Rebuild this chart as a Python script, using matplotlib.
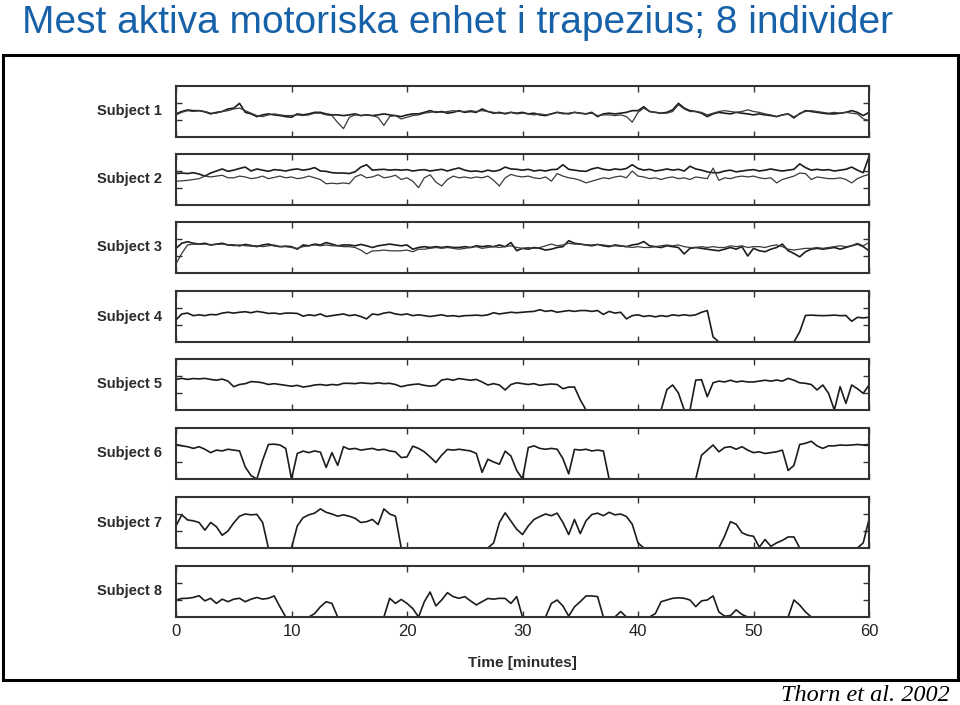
#!/usr/bin/env python3
# -*- coding: utf-8 -*-

import numpy as np
import matplotlib
matplotlib.use("Agg")
import matplotlib.pyplot as plt
from matplotlib.patches import Rectangle

# Time axis: one reading every half minute, 0..60 min
minutes = np.arange(0, 60.5, 0.5)

# Firing rate traces, y range 0..30
subj1_a = [13.6, 15.0, 15.9, 15.5, 15.5, 14.8, 13.6, 14.5, 15.0, 16.5,
           17.0, 19.8, 14.5, 13.6, 12.0, 13.0, 13.6, 13.0, 12.6, 12.0,
           11.6, 13.6, 13.0, 13.6, 14.5, 14.5, 13.6, 13.0, 13.0, 12.6,
           13.0, 13.6, 12.6, 13.0, 12.6, 13.0, 13.6, 13.0, 12.6, 12.0,
           13.0, 13.6, 13.6, 14.5, 15.5, 14.5, 15.0, 14.0, 14.5, 15.5,
           14.5, 15.0, 14.5, 16.5, 15.0, 14.0, 14.5, 13.6, 14.5, 14.0,
           14.5, 13.6, 14.0, 13.0, 12.6, 13.6, 14.5, 14.0, 13.6, 14.5,
           14.0, 13.6, 14.5, 12.0, 13.6, 14.0, 13.6, 14.0, 14.5, 15.5,
           15.5, 17.8, 15.0, 14.5, 14.0, 14.5, 16.0, 19.8, 17.0, 15.5,
           15.0, 14.0, 12.0, 13.6, 14.5, 14.0, 13.6, 14.5, 14.0, 13.6,
           13.0, 13.6, 13.0, 12.6, 12.0, 13.0, 13.6, 11.6, 13.6, 15.5,
           15.0, 14.5, 14.0, 13.6, 13.6, 14.0, 14.5, 15.5, 14.5, 12.6,
           14.5]
subj1_b = [13.0, 14.5, 15.5, 15.0, 15.5, 15.0, 14.0, 14.0, 15.0, 15.5,
           16.5, 17.0, 15.5, 14.0, 12.6, 12.0, 13.0, 13.6, 13.0, 12.6,
           12.6, 13.0, 12.6, 13.0, 14.0, 14.0, 13.0, 12.6, 8.5, 4.9,
           11.5, 13.0, 12.6, 13.0, 12.6, 11.5, 6.8, 12.0, 12.6, 10.6,
           11.6, 12.6, 13.0, 14.0, 14.5, 15.0, 14.5, 15.0, 15.5, 15.0,
           15.0, 15.5, 15.0, 15.5, 15.0, 14.5, 14.0, 14.0, 14.5, 13.6,
           14.0, 13.6, 13.0, 13.6, 13.0, 13.6, 14.5, 13.6, 14.0, 14.5,
           14.0, 13.6, 14.0, 12.6, 13.0, 13.0, 12.6, 13.0, 12.0, 8.7,
           14.5, 17.0, 15.0, 14.5, 14.0, 14.0, 15.0, 19.0, 16.5, 15.0,
           15.0, 14.5, 13.0, 14.0, 15.0, 15.5, 15.0, 14.5, 15.0, 16.0,
           15.0, 14.5, 13.6, 13.0, 12.0, 13.0, 13.6, 11.0, 14.0, 15.0,
           15.5, 15.0, 14.5, 14.0, 14.5, 14.0, 14.5, 14.0, 13.6, 10.7,
           9.7]
subj2_a = [18.5, 18.8, 18.5, 19.0, 18.2, 17.0, 18.8, 20.0, 21.2, 19.8,
           20.5, 21.5, 22.3, 20.0, 21.2, 20.5, 19.8, 20.8, 20.5, 20.0,
           20.8, 21.2, 20.5, 21.0, 22.0, 20.0, 19.8, 19.0, 18.8, 18.8,
           18.5, 19.5, 22.3, 23.7, 20.5, 20.8, 21.0, 20.5, 20.8, 20.5,
           20.8, 20.0, 20.5, 20.8, 20.0, 20.5, 21.0, 20.0, 21.0, 21.8,
           20.5, 19.8, 20.0, 19.5, 20.5, 19.8, 20.5, 22.3, 21.2, 21.0,
           20.5, 21.0, 20.0, 20.5, 20.0, 20.8, 21.0, 23.7, 21.0, 20.5,
           20.0, 19.8, 21.2, 22.0, 21.0, 20.5, 21.2, 20.8, 21.5, 23.7,
           21.5, 20.5, 21.0, 20.0, 20.5, 21.2, 20.5, 21.0, 20.0, 22.8,
           21.2, 20.5, 19.5, 19.0, 19.0, 20.0, 20.5, 19.5, 20.0, 20.5,
           20.8, 20.0, 20.5, 21.2, 20.5, 20.0, 20.5, 21.0, 24.2, 22.0,
           20.5, 21.0, 20.5, 20.8, 20.0, 20.5, 21.0, 22.3, 20.5, 19.0,
           28.5]
subj2_b = [14.0, 14.2, 14.5, 15.0, 15.5, 17.0, 16.5, 17.0, 17.5, 16.0,
           16.0, 17.0, 16.5, 15.5, 16.0, 17.0, 15.5, 16.2, 17.0, 16.0,
           16.5, 15.5, 16.0, 17.0, 16.0, 15.0, 12.5, 12.8, 12.5, 13.0,
           12.5, 16.5, 17.9, 16.0, 16.5, 17.8, 16.0, 16.5, 17.5, 15.0,
           16.0, 14.0, 10.2, 16.0, 17.8, 13.5, 11.2, 15.0, 17.0, 16.0,
           16.5, 15.8, 16.5, 16.0, 17.0, 14.5, 11.2, 16.0, 18.0, 17.0,
           16.5, 17.0, 16.0, 15.5, 16.5, 14.0, 18.5, 17.0, 16.0, 15.5,
           14.5, 13.0, 14.0, 15.0, 16.0, 15.5, 16.5, 17.0, 16.0, 20.0,
           17.0, 16.5, 15.5, 16.0, 15.0, 16.0, 16.5, 15.5, 16.0, 15.0,
           16.5, 16.0, 15.5, 21.7, 14.5, 16.0, 15.5, 16.5, 17.0, 16.5,
           17.0, 16.0, 15.5, 16.0, 13.0, 15.0, 16.0, 17.0, 18.8, 18.5,
           15.0, 16.5, 16.0, 15.5, 15.5, 16.0, 15.0, 13.0, 15.5, 17.0,
           18.0]
subj3_a = [14.5, 17.5, 18.4, 17.5, 17.0, 17.5, 16.5, 17.0, 17.5, 16.5,
           16.5, 16.0, 16.8, 16.2, 15.5, 16.5, 17.0, 16.0, 15.5, 15.8,
           15.5, 14.0, 16.5, 16.0, 17.0, 16.5, 17.9, 17.0, 16.0, 16.5,
           16.5, 16.0, 16.8, 16.0, 15.0, 16.0, 16.5, 17.0, 16.5, 16.0,
           16.5, 14.0, 15.0, 15.5, 15.0, 15.5, 15.0, 15.5, 15.0, 15.0,
           15.5, 15.0, 16.0, 15.5, 16.0, 15.5, 16.5, 15.5, 17.9, 13.1,
           14.5, 14.0, 15.0, 14.5, 13.5, 14.0, 15.0, 15.5, 19.0, 17.5,
           17.0, 16.5, 16.0, 16.8, 16.0, 15.5, 16.5, 16.0, 15.5, 16.5,
           17.0, 18.5, 16.0, 15.5, 15.0, 16.0, 15.5, 15.0, 11.2, 14.5,
           15.0, 14.5, 14.0, 13.5, 13.1, 14.0, 15.0, 14.0, 15.5, 10.0,
           14.5, 13.1, 12.5, 14.0, 15.0, 17.0, 13.1, 11.5, 9.5, 12.5,
           14.0, 14.5, 14.0, 14.5, 15.0, 14.0, 15.0, 16.0, 17.0, 15.5,
           13.1]
subj3_b = [5.4, 11.5, 16.5, 17.0, 16.8, 17.0, 16.5, 16.8, 17.0, 16.5,
           16.0, 16.5, 16.0, 15.8, 16.0, 15.5, 16.0, 16.5, 15.5, 15.5,
           15.0, 14.5, 15.5, 16.0, 16.5, 16.0, 16.5, 16.0, 16.0, 15.5,
           15.5, 15.0, 13.5, 11.2, 13.0, 13.1, 13.5, 13.1, 13.0, 13.1,
           13.5, 12.5, 14.0, 14.0, 14.5, 15.0, 14.5, 15.0, 14.5, 14.0,
           14.5, 15.0, 15.5, 14.5, 15.0, 15.5, 15.0, 15.5, 16.0, 15.0,
           14.5, 15.0, 14.5, 15.0, 16.0, 17.0, 16.0, 16.5, 17.5, 17.0,
           17.0, 16.5, 16.5, 16.8, 16.5, 16.0, 16.0, 15.8, 15.5, 15.0,
           15.5, 15.0, 15.0, 15.5, 16.0, 16.5, 16.0, 16.5, 15.5, 15.0,
           15.0, 15.5, 15.0, 15.5, 15.0, 15.0, 16.0, 15.5, 16.0, 15.0,
           15.5, 15.5, 15.0, 16.0, 16.5, 15.5, 14.0, 13.5, 14.0, 14.5,
           14.5, 15.0, 14.5, 15.0, 15.5, 16.0, 15.5, 16.0, 17.5, 16.0,
           17.9]
subj4 = [13.0, 16.5, 17.0, 15.5, 16.0, 15.5, 16.2, 16.0, 17.0, 17.5,
         17.0, 17.5, 17.8, 17.2, 18.0, 17.5, 16.8, 17.0, 16.5, 17.0,
         17.0, 16.8, 15.2, 16.0, 15.5, 16.5, 15.0, 15.5, 16.0, 16.5,
         15.5, 16.0, 15.0, 13.6, 16.5, 16.0, 17.0, 17.5, 16.5, 16.0,
         16.5, 15.5, 16.0, 15.5, 15.0, 15.5, 16.0, 15.2, 15.5, 15.0,
         15.5, 15.6, 15.8, 15.5, 16.0, 17.2, 16.5, 17.0, 17.5, 17.2,
         17.5, 17.8, 18.0, 19.0, 18.0, 18.5, 17.5, 18.0, 18.5, 18.0,
         18.5, 18.5, 18.0, 18.5, 16.2, 18.0, 17.0, 17.5, 13.6, 15.5,
         16.0, 15.0, 15.5, 14.8, 15.5, 15.0, 16.0, 15.5, 16.0, 15.5,
         16.0, 17.5, 18.5, 3.0, 0.0, 0.0, 0.0, 0.0, 0.0, 0.0,
         0.0, 0.0, 0.0, 0.0, 0.0, 0.0, 0.0, 0.0, 6.0, 15.6,
         15.8, 15.6, 15.5, 15.6, 15.8, 15.5, 15.6, 12.2, 14.5, 14.2,
         14.5]
subj5 = [18.0, 18.6, 18.0, 18.5, 18.3, 18.6, 18.0, 17.5, 18.2, 17.0,
         13.7, 15.0, 15.5, 16.7, 16.5, 16.0, 15.0, 15.5, 15.0, 14.5,
         14.0, 14.5, 13.5, 14.0, 14.7, 15.0, 14.5, 15.0, 14.7, 15.7,
         15.7, 15.5, 16.0, 15.7, 15.5, 16.0, 15.5, 15.7, 15.0, 13.7,
         14.5, 15.0, 15.3, 14.5, 14.0, 14.5, 17.6, 18.2, 17.5, 18.5,
         18.0, 17.5, 18.0, 16.5, 14.7, 15.5, 14.7, 11.8, 15.0, 16.0,
         15.5, 15.0, 15.5, 14.5, 15.0, 15.3, 15.0, 12.5, 13.5, 13.5,
         6.0, 0.0, 0.0, 0.0, 0.0, 0.0, 0.0, 0.0, 0.0, 0.0,
         0.0, 0.0, 0.0, 0.0, 0.0, 12.0, 14.7, 10.0, 0.0, 0.0,
         17.6, 17.8, 7.8, 16.0, 17.0, 16.5, 17.5, 16.5, 17.0, 16.5,
         16.5, 17.0, 17.5, 17.0, 17.6, 17.0, 18.6, 17.5, 16.0, 15.7,
         15.0, 11.8, 14.7, 9.8, 0.0, 13.7, 3.9, 14.7, 12.5, 9.8,
         14.7]
subj6 = [20.3, 19.5, 19.0, 18.0, 19.0, 17.5, 15.5, 17.0, 16.5, 17.5,
         17.0, 16.5, 7.0, 2.0, 0.0, 11.0, 20.3, 20.5, 20.0, 18.0,
         0.0, 15.0, 16.4, 15.5, 16.5, 15.8, 6.8, 15.5, 8.0, 19.0,
         17.5, 18.0, 17.0, 17.5, 18.0, 17.0, 17.5, 16.5, 16.0, 12.6,
         13.0, 19.3, 18.0, 16.0, 13.0, 9.7, 14.0, 17.4, 17.0, 17.5,
         17.0, 16.5, 15.0, 3.9, 11.6, 10.0, 8.7, 16.4, 13.5, 5.0,
         0.0, 18.5, 19.5, 18.0, 17.5, 18.0, 17.5, 12.0, 3.0, 17.4,
         17.0, 17.5, 16.5, 17.0, 16.5, 0.0, 0.0, 0.0, 0.0, 0.0,
         0.0, 0.0, 0.0, 0.0, 0.0, 0.0, 0.0, 0.0, 0.0, 0.0,
         0.0, 14.0, 17.0, 20.0, 16.0, 18.5, 19.0, 17.5, 19.0, 17.0,
         15.5, 16.0, 15.0, 15.5, 16.0, 17.0, 5.0, 8.0, 20.3, 21.0,
         22.2, 19.5, 18.0, 19.5, 19.5, 20.0, 19.8, 20.0, 20.3, 20.0,
         20.3]
subj7 = [13.0, 19.5, 16.5, 16.0, 15.0, 10.5, 15.0, 12.5, 7.5, 10.0,
         14.8, 18.7, 20.0, 19.5, 19.8, 15.0, 0.0, 0.0, 0.0, 0.0,
         0.0, 13.0, 17.8, 19.5, 20.5, 23.0, 21.0, 20.0, 18.7, 19.5,
         18.7, 17.5, 15.0, 15.5, 16.8, 13.8, 23.0, 20.0, 18.7, 0.0,
         0.0, 0.0, 0.0, 0.0, 0.0, 0.0, 0.0, 0.0, 0.0, 0.0,
         0.0, 0.0, 0.0, 0.0, 0.0, 3.0, 15.0, 20.7, 15.8, 11.0,
         7.9, 13.0, 16.8, 18.5, 20.0, 19.0, 20.5, 15.0, 7.9, 16.8,
         8.5, 16.0, 19.7, 20.5, 19.0, 21.0, 19.5, 20.0, 18.5, 14.0,
         3.0, 0.0, 0.0, 0.0, 0.0, 0.0, 0.0, 0.0, 0.0, 0.0,
         0.0, 0.0, 0.0, 0.0, 0.0, 7.0, 15.5, 14.0, 9.0, 7.5,
         6.9, 0.5, 5.0, 1.0, 3.0, 4.5, 6.5, 6.5, 0.0, 0.0,
         0.0, 0.0, 0.0, 0.0, 0.0, 0.0, 0.0, 0.0, 0.0, 3.0,
         16.8]
subj8 = [9.9, 10.9, 11.0, 11.5, 12.5, 9.5, 11.0, 8.0, 10.5, 9.0,
         10.5, 11.0, 9.0, 10.5, 11.5, 10.5, 11.0, 12.4, 6.0, 0.0,
         0.0, 0.0, 0.0, 0.0, 2.0, 6.0, 9.0, 8.0, 0.0, 0.0,
         0.0, 0.0, 0.0, 0.0, 0.0, 0.0, 0.0, 11.0, 8.0, 10.3,
         8.0, 5.0, 0.0, 9.0, 14.7, 6.5, 10.0, 14.3, 12.0, 11.0,
         12.0, 9.5, 7.1, 9.0, 10.9, 10.5, 11.0, 10.9, 8.0, 12.0,
         0.0, 0.0, 0.0, 0.0, 0.0, 8.0, 10.0, 6.5, 0.5, 6.0,
         9.0, 12.4, 12.4, 12.0, 0.0, 0.0, 0.0, 3.2, 0.0, 0.0,
         0.0, 0.0, 0.0, 2.0, 9.0, 10.0, 11.0, 11.3, 11.0, 10.0,
         6.1, 9.5, 10.0, 12.4, 3.0, 0.5, 0.8, 4.2, 1.5, 0.0,
         0.0, 0.0, 0.0, 0.0, 0.0, 0.0, 0.0, 10.0, 7.0, 3.0,
         0.0, 0.0, 0.0, 0.0, 0.0, 0.0, 0.0, 0.0, 0.0, 0.0,
         0.0]

subject_labels = ["Subject 1", "Subject 2", "Subject 3", "Subject 4",
                  "Subject 5", "Subject 6", "Subject 7", "Subject 8"]
x_ticks = [0, 10, 20, 30, 40, 50, 60]
y_ticks = [10, 20]


def main():
    plt.rcParams['font.family'] = ['Liberation Sans', 'DejaVu Sans']

    traces = [
        [subj1_a, subj1_b],
        [subj2_a, subj2_b],
        [subj3_a, subj3_b],
        [subj4],
        [subj5],
        [subj6],
        [subj7],
        [subj8],
    ]

    W, H = 960, 705
    fig = plt.figure(figsize=(W / 100, H / 100), dpi=100)

    # 1. Slide title (baseline about 33 px from the top)
    fig.text(22 / W, 1 - 33 / H, "Mest aktiva motoriska enhet i trapezius; 8 individer",
             ha='left', va='baseline', fontsize=28, color='#1761A9')

    # 2. Frame round the scanned figure
    fig.patches.append(Rectangle((3 / W, 1 - 680 / H), 955 / W, 625 / H,
                                 transform=fig.transFigure, fill=False,
                                 edgecolor='black', linewidth=2.2))

    # 3. Stacked panels
    panel_tops = [86, 154, 222, 291, 359, 428, 497, 566]
    left, width, height = 176, 693, 51
    for i, (top, series) in enumerate(zip(panel_tops, traces)):
        ax = fig.add_axes([left / W, 1 - (top + height) / H, width / W, height / H])
        for j, ys in enumerate(series):
            ax.plot(minutes, ys, color='#1c1c1c' if j == 0 else '#3a3a3a',
                    linewidth=1.2 if j == 0 else 0.9)
        ax.set_xlim(0, 60)
        ax.set_ylim(0, 30)
        ax.set_xticks(x_ticks)
        ax.set_yticks(y_ticks)
        ax.tick_params(direction='in', length=4, width=1, top=True, right=True,
                       colors='#333333', labelsize=12, labelcolor='#222222')
        ax.tick_params(axis='y', labelleft=False)
        for sp in ax.spines.values():
            sp.set_linewidth(1.5)
            sp.set_color('#333333')
        ax.text(-14 / width, 0.5, subject_labels[i], transform=ax.transAxes,
                ha='right', va='center', fontsize=10.5, fontweight='bold',
                color='#2a2a2a')
        if i < len(panel_tops) - 1:
            ax.tick_params(axis='x', labelbottom=False)
        else:
            ax.tick_params(axis='x', pad=5)
            ax.set_xlabel("Time [minutes]", fontsize=11, fontweight='bold',
                          color='#2a2a2a', labelpad=12)

    # 4. Source note
    fig.text(950 / W, 1 - 701 / H, "Thorn et al. 2002", ha='right', va='baseline',
             fontsize=17.5, style='italic', family=['Liberation Serif', 'DejaVu Serif'])

    fig.savefig("out.png", dpi=100)
    plt.close(fig)


if __name__ == "__main__":
    main()
